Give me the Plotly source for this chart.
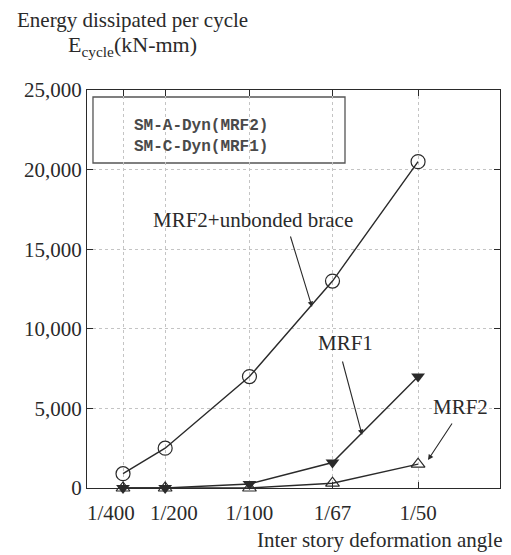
import plotly.graph_objects as go

# Inter-story deformation angle (rad) and labels
angles = [1 / 400, 1 / 200, 1 / 100, 1 / 67, 1 / 50]
angle_labels = ["1/400", "1/200", "1/100", "1/67", "1/50"]

# Energy dissipated per cycle (kN-mm)
brace = [900, 2500, 7000, 13000, 20500]   # MRF2 + unbonded brace
mrf1 = [0, 0, 250, 1600, 7000]             # SM-C-Dyn
mrf2 = [0, 0, 0, 300, 1500]                # SM-A-Dyn

y_ticks = [0, 5000, 10000, 15000, 20000, 25000]

SERIF = "Liberation Serif"
INK = "#2a2a2a"

# the two left-most labels are crowded: draw them as separate, nudged labels
tick_text = ["", ""] + angle_labels[2:]
crowded = [(angles[0], angle_labels[0], -12), (angles[1], angle_labels[1], 9)]

fig = go.Figure()

fig.add_trace(go.Scatter(
    x=angles, y=mrf2, mode="lines+markers", name="MRF2",
    line=dict(color=INK, width=1.4),
    marker=dict(symbol="triangle-up-open", size=12, color=INK, line=dict(width=1.2, color=INK)),
    cliponaxis=False,
))
fig.add_trace(go.Scatter(
    x=angles, y=mrf1, mode="lines+markers", name="MRF1",
    line=dict(color=INK, width=1.4),
    marker=dict(symbol="triangle-down", size=12, color=INK),
    cliponaxis=False,
))
fig.add_trace(go.Scatter(
    x=angles, y=brace, mode="lines+markers", name="MRF2+unbonded brace",
    line=dict(color=INK, width=1.4),
    marker=dict(symbol="circle-open", size=14, color=INK, line=dict(width=1.2, color=INK)),
    cliponaxis=False,
))

annotations = [
    # axis titles
    dict(text="Energy dissipated per cycle", xref="paper", yref="paper",
         x=-0.174, y=1.176, xanchor="left", yanchor="middle", showarrow=False,
         font=dict(family=SERIF, size=21, color=INK)),
    dict(text="E<sub>cycle</sub>(kN-mm)", xref="paper", yref="paper",
         x=0.111, y=1.11, xanchor="center", yanchor="middle", showarrow=False,
         font=dict(family=SERIF, size=22, color=INK)),
    dict(text="Inter story deformation angle", xref="paper", yref="paper",
         x=1.012, y=-0.131, xanchor="right", yanchor="middle", showarrow=False,
         font=dict(family=SERIF, size=21, color=INK)),
    # legend entries
    dict(text="<b>SM-A-Dyn(MRF2)</b><br><b>SM-C-Dyn(MRF1)</b>", xref="paper", yref="paper",
         x=0.109, y=0.883, xanchor="left", yanchor="middle", align="left",
         showarrow=False,
         font=dict(family="Liberation Mono", size=16, color="#4a4a4a")),
    # curve labels
    dict(text="MRF2+unbonded brace", x=0.01021, y=16834, showarrow=False,
         font=dict(family=SERIF, size=21, color=INK)),
    dict(text="MRF1", x=0.01567, y=9108, showarrow=False,
         font=dict(family=SERIF, size=21, color=INK)),
    dict(text="MRF2", x=0.02249, y=5088, showarrow=False,
         font=dict(family=SERIF, size=21, color=INK)),
    # leader arrows
    dict(text="", x=0.01371, y=11369, ax=-22, ay=-72, showarrow=True,
         arrowhead=2, arrowsize=1, arrowwidth=1.1, arrowcolor=INK),
    dict(text="", x=0.01668, y=3329, ax=-20, ay=-75, showarrow=True,
         arrowhead=2, arrowsize=1, arrowwidth=1.1, arrowcolor=INK),
    dict(text="", x=0.02059, y=1759, ax=25, ay=-38, showarrow=True,
         arrowhead=2, arrowsize=1, arrowwidth=1.1, arrowcolor=INK),
]
for xv, label, shift in crowded:
    annotations.append(dict(
        text=label, xref="x", yref="paper", x=xv, y=-0.0628, xshift=shift,
        xanchor="center", yanchor="middle", showarrow=False,
        font=dict(family=SERIF, size=21, color=INK)))

fig.update_layout(
    width=511, height=555,
    margin=dict(l=87, r=11, t=90, b=67),
    paper_bgcolor="white", plot_bgcolor="white",
    showlegend=False,
    annotations=annotations,
    shapes=[dict(type="rect", xref="paper", yref="paper",
                 x0=0.0145, x1=0.6247, y0=0.8166, y1=0.9824,
                 line=dict(color="#555555", width=1.3), fillcolor="white",
                 layer="below")],
    font=dict(family=SERIF, size=21, color=INK),
)

fig.update_xaxes(
    range=[0.000364, 0.02486],
    tickvals=angles, ticktext=tick_text, tickangle=0,
    ticks="inside", ticklen=6, tickcolor=INK,
    ticklabelstandoff=6,
    showline=True, linecolor=INK, linewidth=1.3, mirror="ticks",
    showgrid=True, gridcolor="#c4c4c4", griddash="dot", gridwidth=1,
    zeroline=False,
    tickfont=dict(family=SERIF, size=21, color=INK),
)
fig.update_yaxes(
    range=[0, 25000],
    tickvals=y_ticks, tickformat=",",
    ticks="inside", ticklen=6, tickcolor=INK,
    showline=True, linecolor=INK, linewidth=1.3, mirror="ticks",
    showgrid=True, gridcolor="#c4c4c4", griddash="dot", gridwidth=1,
    zeroline=False,
    tickfont=dict(family=SERIF, size=21, color=INK),
)

fig.write_html("out.html")
